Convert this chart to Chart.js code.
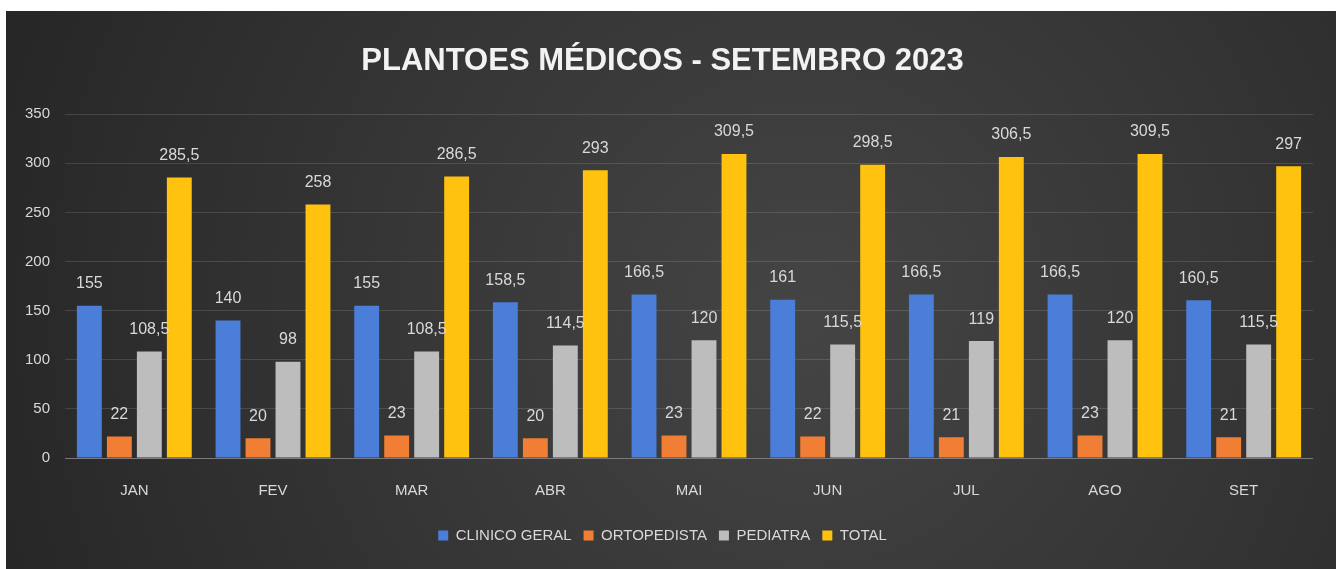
<!DOCTYPE html>
<html>
<head>
<meta charset="utf-8">
<script src="https://cdn.jsdelivr.net/npm/chart.js@4.4.0/dist/chart.umd.min.js"></script>
<style>
  html, body { margin: 0; padding: 0; background: #ffffff; }
  #wrap { position: absolute; left: 6px; top: 11px; width: 1330px; height: 558px; }
</style>
</head>
<body>
<div id="wrap"><canvas id="bar_chart"></canvas></div>
<script>
var meses = ["JAN", "FEV", "MAR", "ABR", "MAI", "JUN", "JUL", "AGO", "SET"];
var clinicoGeral = [155, 140, 155, 158.5, 166.5, 161, 166.5, 166.5, 160.5];
var ortopedista = [22, 20, 23, 20, 23, 22, 21, 23, 21];
var pediatra = [108.5, 98, 108.5, 114.5, 120, 115.5, 119, 120, 115.5];
var total = [285.5, 258, 286.5, 293, 309.5, 298.5, 306.5, 309.5, 297];
var yTicks = [0, 50, 100, 150, 200, 250, 300, 350];

var FONT = "'Liberation Sans', 'DejaVu Sans', sans-serif";

// fundo escuro com gradiente radial
var bgPlugin = {
    id: 'bg',
    beforeDraw: function (chart) {
        var ctx = chart.ctx, w = chart.width, h = chart.height;
        var g = ctx.createRadialGradient(w * 0.6, h * 0.55, 20, w * 0.6, h * 0.55, w * 0.65);
        g.addColorStop(0, '#444444');
        g.addColorStop(1, '#262626');
        ctx.save();
        ctx.fillStyle = g;
        ctx.fillRect(0, 0, w, h);
        ctx.restore();
    }
};

// rotulos de valor em cima das barras
var labelPlugin = {
    id: 'valueLabels',
    afterDatasetsDraw: function (chart) {
        var ctx = chart.ctx;
        ctx.save();
        ctx.font = '16px ' + FONT;
        ctx.fillStyle = '#d9d9d9';
        ctx.textAlign = 'center';
        ctx.textBaseline = 'bottom';
        chart.data.datasets.forEach(function (ds, i) {
            chart.getDatasetMeta(i).data.forEach(function (bar, j) {
                var txt = String(ds.data[j]).replace('.', ',');
                ctx.fillText(txt, bar.x, bar.y - 14);
            });
        });
        ctx.restore();
    }
};

function gridColor(c) {
    return c.tick && c.tick.value === 0 ? '#7a7a7a' : 'rgba(255,255,255,0.13)';
}

new Chart(document.getElementById("bar_chart").getContext("2d"), {
    type: 'bar',
    data: {
        labels: meses,
        datasets: [{
            label: "CLINICO GERAL",
            data: clinicoGeral,
            backgroundColor: '#4a7ed8'
        }, {
            label: "ORTOPEDISTA",
            data: ortopedista,
            backgroundColor: '#f07f35'
        }, {
            label: "PEDIATRA",
            data: pediatra,
            backgroundColor: '#bdbdbd'
        }, {
            label: "TOTAL",
            data: total,
            backgroundColor: '#ffc20e'
        }]
    },
    options: {
        responsive: true,
        maintainAspectRatio: false,
        animation: false,
        layout: { padding: { left: 6, right: 23, top: 0, bottom: 16 } },
        datasets: { bar: { categoryPercentage: 0.865, barPercentage: 0.83 } },
        scales: {
            x: {
                grid: { display: false },
                border: { display: false },
                ticks: { color: '#d9d9d9', font: { family: FONT, size: 15 }, padding: 16 }
            },
            y: {
                min: 0,
                max: 350,
                afterBuildTicks: function (axis) {
                    axis.ticks = yTicks.map(function (v) { return { value: v }; });
                },
                grid: { color: gridColor, drawTicks: false, lineWidth: 1 },
                border: { display: false },
                ticks: { color: '#d9d9d9', font: { family: FONT, size: 15 }, padding: 15 },
                afterFit: function (axis) { axis.width = 53; }
            }
        },
        plugins: {
            title: {
                display: true,
                text: 'PLANTOES MÉDICOS - SETEMBRO 2023',
                color: '#f2f2f2',
                font: { family: FONT, size: 31, weight: 'bold' },
                padding: { top: 32, bottom: 34 }
            },
            legend: {
                position: 'bottom',
                labels: {
                    color: '#d9d9d9',
                    font: { family: FONT, size: 15 },
                    boxWidth: 10,
                    boxHeight: 10,
                    padding: 12
                }
            },
            tooltip: { enabled: false }
        }
    },
    plugins: [bgPlugin, labelPlugin]
});
</script>
</body>
</html>
